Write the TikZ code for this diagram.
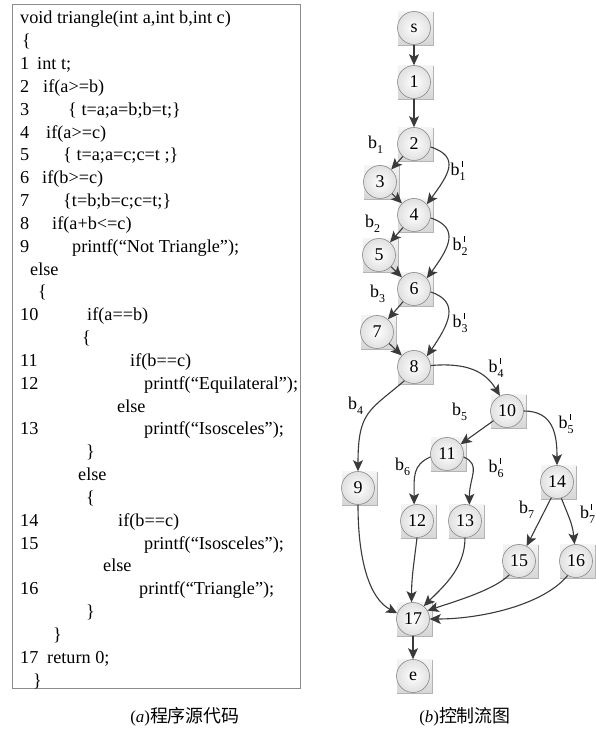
\documentclass[tikz,border=0pt]{standalone}
\usepackage{fontspec}
\setmainfont{Liberation Serif}
\newfontfamily\cjkfont{Noto Sans CJK SC}
\usetikzlibrary{arrows.meta}

\definecolor{edgegray}{HTML}{3A3A3A}
\definecolor{framegray}{HTML}{8C8C8C}
\definecolor{ringgray}{HTML}{8A8A8A}
\definecolor{sqtop}{HTML}{F4F4F4}
\definecolor{sqbot}{HTML}{D6D6D6}
\definecolor{sqedge}{HTML}{B4B4B4}
\definecolor{ballout}{HTML}{E0E0E0}

\tikzset{
  codetext/.style={anchor=base west, inner sep=0pt, font=\fontsize{18.3}{22}\selectfont},
  gnode/.style={circle, minimum size=33bp, inner sep=0pt, draw=ringgray, line width=0.6bp,
    inner color=white, outer color=ballout, font=\fontsize{18}{18}\selectfont},
  flow/.style={draw=edgegray, line width=1.1bp,
    -{Stealth[length=11bp, width=10bp, inset=2.5bp]}},
  blabel/.style={anchor=base west, inner sep=0pt, font=\fontsize{18}{18}\selectfont},
  caption/.style={inner sep=0pt}
}

% code line: name, x, line index, text
\newcommand\codeline[4]{\node[codetext] (#1) at (#2,{705-22.83*#3}) {#4};}

% flow-graph node with its shaded square backing: name, x, y, label
\newcommand\flownode[4]{%
  \shade[top color=sqtop, bottom color=sqbot] ({#2-16},{#3+16}) rectangle ({#2+19},{#3-17});
  \draw[sqedge, line width=0.8bp] ({#2+19},{#3+16}) -- ({#2+19},{#3-17}) -- ({#2-16},{#3-17});
  \node[gnode] (#1) at (#2,#3) {#4};
}

% branch labels b_i and b'_i
\newcommand\bsub[1]{b\raisebox{-4.5bp}{\fontsize{12}{12}\selectfont #1}}
\newcommand\bsubp[1]{b\rlap{\hspace{2.2bp}\raisebox{9bp}{\rule{0.7bp}{5.5bp}}}\raisebox{-4.5bp}{\fontsize{12}{12}\selectfont #1}}

\begin{document}
\begin{tikzpicture}[x=1bp, y=1bp]
\fill[white] (0,0) rectangle (596,729);
\useasboundingbox (0,0) rectangle (596,729);

% ---------- source listing ----------
\draw[framegray, line width=0.8bp] (12,725) rectangle (300,41);

\codeline{c0}{20}{0}{void triangle(int a,int b,int c)}
\codeline{c1}{22}{1}{\{}
\codeline{n1l}{20}{2}{1}  \codeline{c2}{37}{2}{int t;}
\codeline{n2l}{20}{3}{2}  \codeline{c3}{43}{3}{if(a>=b)}
\codeline{n3l}{20}{4}{3}  \codeline{c4}{68}{4}{\{ t=a;a=b;b=t;\}}
\codeline{n4l}{20}{5}{4}  \codeline{c5}{46}{5}{if(a>=c)}
\codeline{n5l}{20}{6}{5}  \codeline{c6}{63}{6}{\{ t=a;a=c;c=t ;\}}
\codeline{n6l}{20}{7}{6}  \codeline{c7}{42}{7}{if(b>=c)}
\codeline{n7l}{20}{8}{7}  \codeline{c8}{63}{8}{\{t=b;b=c;c=t;\}}
\codeline{n8l}{20}{9}{8}  \codeline{c9}{52}{9}{if(a+b<=c)}
\codeline{n9l}{20}{10}{9} \codeline{c10}{72}{10}{printf(“Not Triangle”);}
\codeline{c11}{30}{11}{else}
\codeline{c12}{38}{12}{\{}
\codeline{n10l}{20}{13}{10} \codeline{c13}{87}{13}{if(a==b)}
\codeline{c14}{82}{14}{\{}
\codeline{n11l}{20}{15}{11} \codeline{c15}{130}{15}{if(b==c)}
\codeline{n12l}{20}{16}{12} \codeline{c16}{144}{16}{printf(“Equilateral”);}
\codeline{c17}{117}{17}{else}
\codeline{n13l}{20}{18}{13} \codeline{c18}{144}{18}{printf(“Isosceles”);}
\codeline{c19}{86}{19}{\}}
\codeline{c20}{78}{20}{else}
\codeline{c21}{86}{21}{\{}
\codeline{n14l}{20}{22}{14} \codeline{c22}{118}{22}{if(b==c)}
\codeline{n15l}{20}{23}{15} \codeline{c23}{144}{23}{printf(“Isosceles”);}
\codeline{c24}{103}{24}{else}
\codeline{n16l}{20}{25}{16} \codeline{c25}{139}{25}{printf(“Triangle”);}
\codeline{c26}{86}{26}{\}}
\codeline{c27}{53}{27}{\}}
\codeline{n17l}{20}{28}{17} \codeline{c28}{47}{28}{return 0;}
\codeline{c29}{33}{29}{\}}

% ---------- control flow graph ----------
\flownode{ns}{414}{701}{s}
\flownode{n1}{414}{647}{1}
\flownode{n2}{414}{585}{2}
\flownode{n3}{380}{547}{3}
\flownode{n4}{414}{514}{4}
\flownode{n5}{379}{474}{5}
\flownode{n6}{414}{440}{6}
\flownode{n7}{377}{397}{7}
\flownode{n8}{414}{362}{8}
\flownode{n9}{358}{241}{9}
\flownode{n10}{507}{318}{10}
\flownode{n11}{447}{275}{11}
\flownode{n12}{417}{208}{12}
\flownode{n13}{465}{208}{13}
\flownode{n14}{557}{247}{14}
\flownode{n15}{519}{168}{15}
\flownode{n16}{576}{168}{16}
\flownode{n17}{413}{110}{17}
\flownode{ne}{413}{53}{e}

\draw[flow] (ns) -- (n1);
\draw[flow] (n1) -- (n2);
\draw[flow] (n2) -- (n3);
\draw[flow] (n3) -- (n4);
\draw[flow] (n4) -- (n5);
\draw[flow] (n5) -- (n6);
\draw[flow] (n6) -- (n7);
\draw[flow] (n7) -- (n8);
\draw[flow] (n2.-10) .. controls +(30,-10) and +(22,30) .. (n4.40);
\draw[flow] (n4.-10) .. controls +(30,-10) and +(22,30) .. (n6.40);
\draw[flow] (n6.-10) .. controls +(30,-10) and +(22,32) .. (n8.40);
\draw[flow] (n8.235) .. controls +(-35,-30) and +(0,60) .. (n9.north);
\draw[flow] (n8.5) .. controls +(35,3) and +(-15,25) .. (n10.115);
\draw[flow] (n10) -- (n11);
\draw[flow] (n10.east) .. controls +(30,0) and +(0,30) .. (n14.north);
\draw[flow] (n11.190) .. controls +(-18,-8) and +(0,28) .. (n12.100);
\draw[flow] (n11.-10) .. controls +(18,-8) and +(0,28) .. (n13.75);
\draw[flow] (n14.250) -- (n15);
\draw[flow] (n14.-75) .. controls +(8,-20) and +(-2,20) .. (n16.95);
\draw[flow] (n9.south) .. controls +(0,-55) and +(-28,15) .. (n17.160);
\draw[flow] (n12.south) .. controls +(-3,-25) and +(0,25) .. (n17.95);
\draw[flow] (n13.south) .. controls +(0,-30) and +(20,20) .. (n17.50);
\draw[flow] (n15.235) .. controls +(-15,-15) and +(30,10) .. (n17.30);
\draw[flow] (n16.240) .. controls +(-25,-30) and +(50,0) .. (n17.east);
\draw[flow] (n17) -- (ne);

% branch labels
\node[blabel] (lb1)  at (368,580) {\bsub{1}};
\node[blabel] (lb1p) at (450.5,553) {\bsubp{1}};
\node[blabel] (lb2)  at (365,501) {\bsub{2}};
\node[blabel] (lb2p) at (452.5,478) {\bsubp{2}};
\node[blabel] (lb3)  at (370,431) {\bsub{3}};
\node[blabel] (lb3p) at (452.5,401) {\bsubp{3}};
\node[blabel] (lb4)  at (348,319) {\bsub{4}};
\node[blabel] (lb4p) at (488.5,356) {\bsubp{4}};
\node[blabel] (lb5)  at (452,313) {\bsub{5}};
\node[blabel] (lb5p) at (558.5,300) {\bsubp{5}};
\node[blabel] (lb6)  at (395,258) {\bsub{6}};
\node[blabel] (lb6p) at (488.5,256) {\bsubp{6}};
\node[blabel] (lb7)  at (519,215) {\bsub{7}};
\node[blabel] (lb7p) at (580,210) {\bsubp{7}};

% captions
\node[caption] (capa) at (185,12) {\fontsize{17}{17}\selectfont(\textit{a})\cjkfont\fontsize{18}{18}\selectfont 程序源代码};
\node[caption] (capb) at (465,12) {\fontsize{17}{17}\selectfont(\textit{b})\cjkfont\fontsize{18}{18}\selectfont 控制流图};
\end{tikzpicture}
\end{document}
